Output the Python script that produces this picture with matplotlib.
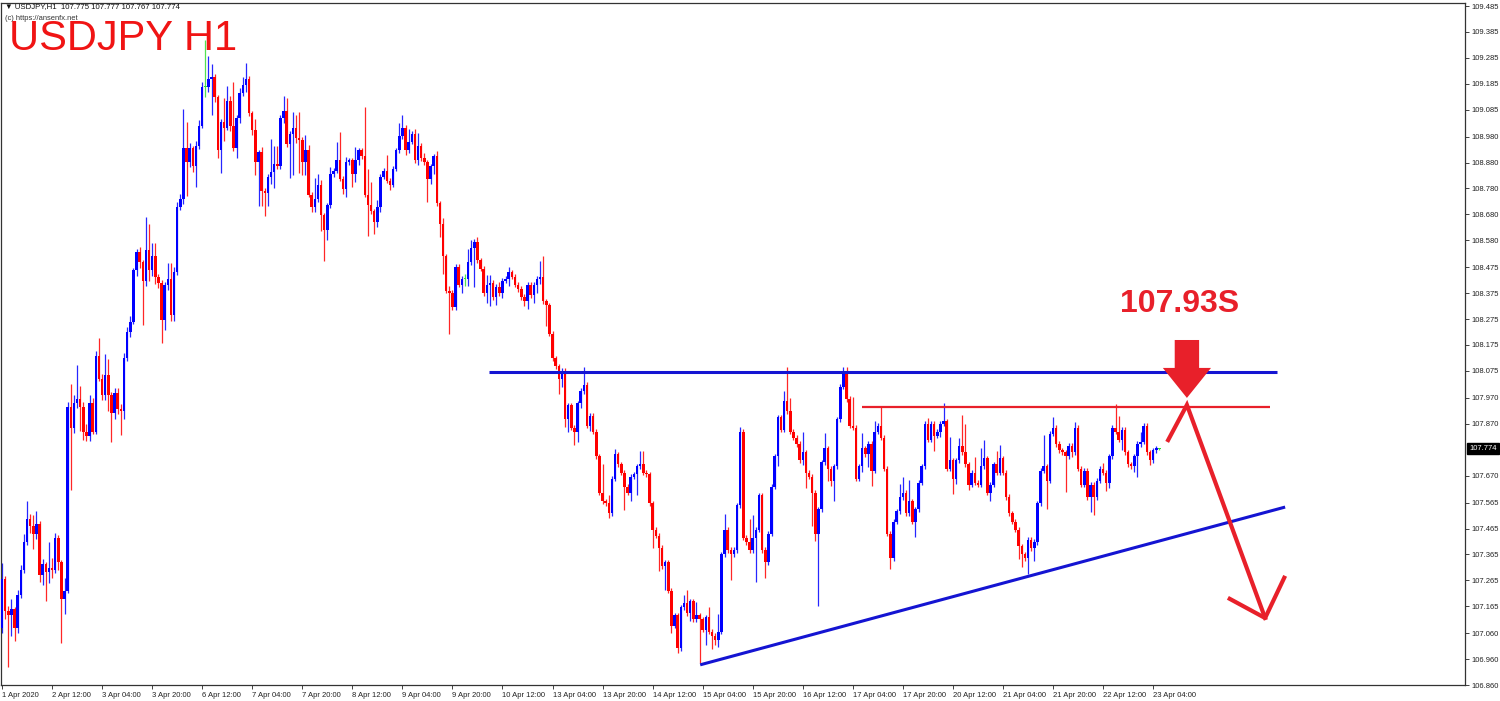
import matplotlib
matplotlib.use("Agg")
import matplotlib.pyplot as plt
import numpy as np
from matplotlib.patches import Polygon

# ---------------- data ----------------
first_open = 107.082
closes = [
    107.271,107.145,107.129,107.153,107.082,107.208,107.303,107.413,107.500,107.476,
    107.445,107.484,107.287,107.327,107.295,107.311,107.303,107.429,107.334,107.193,
    107.224,107.934,107.855,107.950,107.966,107.934,107.839,107.824,107.950,107.839,
    108.131,108.044,107.981,108.060,107.981,107.910,107.989,107.926,107.918,108.123,
    108.226,108.265,108.463,108.534,108.494,108.423,108.541,108.463,108.518,108.439,
    108.415,108.273,108.407,108.431,108.289,108.455,108.707,108.739,108.936,108.881,
    108.936,108.865,108.944,109.023,109.173,109.173,109.204,109.212,109.133,108.928,
    109.038,109.015,109.117,109.023,108.936,109.054,109.149,109.181,109.204,109.070,
    109.007,108.881,108.920,108.771,108.763,108.826,108.842,108.873,108.865,109.054,
    109.078,108.952,108.991,109.015,108.975,108.968,108.881,108.928,108.755,108.707,
    108.739,108.794,108.676,108.620,108.715,108.834,108.849,108.889,108.818,108.778,
    108.881,108.889,108.834,108.889,108.928,108.904,108.755,108.715,108.692,108.652,
    108.707,108.826,108.849,108.810,108.794,108.857,108.928,108.983,109.015,108.928,
    108.960,108.991,108.889,108.944,108.897,108.881,108.818,108.865,108.904,108.723,
    108.644,108.518,108.384,108.376,108.320,108.478,108.407,108.431,108.431,108.494,
    108.549,108.573,108.502,108.470,108.376,108.407,108.415,108.360,108.399,108.376,
    108.423,108.431,108.455,108.439,108.407,108.391,108.360,108.344,108.407,108.368,
    108.407,108.431,108.439,108.344,108.328,108.218,108.123,108.092,108.044,108.076,
    107.887,107.942,107.855,107.839,107.950,107.997,108.021,107.863,107.902,107.839,
    107.745,107.603,107.571,107.563,107.524,107.658,107.752,107.713,107.681,107.626,
    107.603,107.666,107.674,107.705,107.713,107.681,107.674,107.563,107.460,107.437,
    107.390,107.319,107.334,107.224,107.090,107.129,107.003,107.161,107.177,107.137,
    107.184,107.114,107.129,107.114,107.074,107.121,107.066,107.050,107.035,107.066,
    107.366,107.460,107.382,107.366,107.382,107.555,107.839,107.429,107.413,107.382,
    107.429,107.460,107.594,107.382,107.334,107.445,107.626,107.745,107.895,107.847,
    107.958,107.918,107.839,107.816,107.792,107.729,107.760,107.681,107.666,107.603,
    107.445,107.539,107.721,107.776,107.697,107.650,107.705,107.887,108.013,108.068,
    107.966,107.863,107.855,107.658,107.705,107.776,107.752,107.792,107.689,107.839,
    107.863,107.816,107.697,107.445,107.350,107.492,107.531,107.587,107.603,107.524,
    107.571,107.492,107.539,107.642,107.705,107.871,107.808,107.871,107.824,107.839,
    107.871,107.879,107.697,107.729,107.658,107.729,107.784,107.760,107.713,107.634,
    107.681,107.642,107.634,107.705,107.737,107.603,107.634,107.713,107.681,107.737,
    107.681,107.587,107.524,107.492,107.460,107.397,107.366,107.350,107.421,107.390,
    107.413,107.563,107.689,107.705,107.650,107.831,107.855,107.792,107.768,107.760,
    107.745,107.784,107.760,107.855,107.697,107.634,107.689,107.587,107.634,107.587,
    107.650,107.697,107.681,107.642,107.745,107.855,107.839,107.808,107.847,107.760,
    107.713,107.705,107.745,107.792,107.800,107.863,107.760,107.729,107.768,107.776,
    107.774,
]
# upper / lower wick lengths in pips (0.01)
up_wick = [
    6,1,2,4,1,2,2,3,7,2, 4,5,1,2,1,10,4,2,1,1, 5,2,9,3,13,5,2,3,3,2,
    2,7,2,8,6,1,2,2,2,2, 2,2,1,1,2,1,13,10,5,5, 1,1,1,6,6,2,2,2,15,10,
    2,1,2,2,2,18,9,5,1,1, 1,9,6,2,17,1,2,3,6,1, 1,4,1,2,1,1,13,7,7,1,
    6,5,1,6,5,10,1,6,2,1, 8,4,2,1,1,3,1,7,11,1, 2,1,1,5,1,1,19,10,9,1,
    3,1,1,6,1,1,1,5,5,1, 5,1,2,5,1,2,1,1,1,2, 1,2,1,2,1,1,1,1,2,5,
    3,1,2,1,1,4,3,1,1,2, 1,1,2,1,1,1,1,1,1,1, 1,1,6,8,1,1,1,1,1,1,
    1,1,1,1,1,1,7,1,1,1, 1,1,11,1,3,1,2,1,1,1, 1,1,1,1,5,5,1,1,1,1,
    1,1,1,1,1,1,1,1,3,5, 1,1,5,1,1,1,4,1,1,7, 1,6,1,1,1,1,2,1,1,9,
    9,1,1,1,1,1,1,1,1,1, 4,13,5,1,1,1,8,1,1,1, 1,1,1,6,1,1,1,1,1,2,
    2,1,11,1,1,6,1,1,1,4, 1,7,1,1,1,1,1,5,6,1, 8,1,1,1,1,1,2,1,1,1,
    1,7,1,9,1,1,3,12,11,1, 1,6,1,7,7,1,1,1,5,5, 1,1,1,1,1,1,1,1,1,1,
    1,1,1,12,1,1,4,1,1,1, 1,1,1,2,1,1,1,1,1,1, 1,1,2,1,1,1,9,6,1,1,
    1,1,1,1,4,1,1,1,1,1, 0.2,
]
down_wick = [
    2,3,20,8,5,2,1,1,1,3, 6,2,3,4,11,4,3,1,3,17, 6,1,24,2,2,9,3,2,2,1,
    1,1,2,2,6,11,2,2,9,3, 1,2,1,2,2,17,2,4,2,3, 2,9,4,2,2,2,1,1,2,13,
    2,2,8,1,1,4,2,14,2,3, 9,5,1,2,1,4,2,1,3,1, 2,5,17,6,9,5,3,6,1,1,
    2,1,13,16,2,13,5,5,1,2, 2,1,6,12,4,1,1,1,1,2, 3,1,5,3,2,1,1,12,1,5,
    2,2,1,1,2,1,1,1,1,2, 1,1,1,2,1,1,9,2,3,1, 5,7,1,16,1,1,1,3,3,3,
    1,15,1,1,1,4,8,1,3,1, 2,1,3,1,1,1,1,2,3,1, 3,3,2,1,8,1,1,1,6,3,
    3,5,1,5,4,2,1,1,2,1, 1,1,1,1,2,1,1,1,1,9, 1,3,1,8,1,1,1,1,7,1,
    9,1,9,1,3,1,2,1,1,1, 3,1,1,17,1,6,1,5,2,3, 1,1,1,10,1,1,1,1,1,1,
    1,17,1,1,6,1,1,1,4,1, 1,1,1,1,1,1,2,6,1,13, 3,28,1,1,5,2,8,1,1,1,
    1,1,1,1,1,2,1,5,6,1, 1,1,1,1,4,1,1,1,1,1, 1,1,6,1,1,1,1,1,6,1,
    2,1,1,1,6,2,1,1,1,2, 1,1,1,1,1,1,3,1,1,1, 1,1,1,1,1,5,5,1,6,1,
    5,1,1,1,11,1,1,1,1,1, 14,1,2,1,1,1,1,1,6,7, 1,1,1,3,2,1,1,1,4,1,
    1,1,2,8,1,1,1,2,1,1, 0.7,
]
last_open = 107.775

price_ticks = [109.485, 109.385, 109.285, 109.185, 109.085, 108.980, 108.880,
               108.780, 108.680, 108.580, 108.475, 108.375, 108.275, 108.175,
               108.075, 107.970, 107.870, 107.670, 107.565, 107.465, 107.365,
               107.265, 107.165, 107.060, 106.960, 106.860]
date_labels = ["1 Apr 2020", "2 Apr 12:00", "3 Apr 04:00", "3 Apr 20:00",
               "6 Apr 12:00", "7 Apr 04:00", "7 Apr 20:00", "8 Apr 12:00",
               "9 Apr 04:00", "9 Apr 20:00", "10 Apr 12:00", "13 Apr 04:00",
               "13 Apr 20:00", "14 Apr 12:00", "15 Apr 04:00", "15 Apr 20:00",
               "16 Apr 12:00", "17 Apr 04:00", "17 Apr 20:00", "20 Apr 12:00",
               "21 Apr 04:00", "21 Apr 20:00", "22 Apr 12:00", "23 Apr 04:00"]
bars_per_label = 16

# drawn analysis objects (bar index, price)
resistance = 108.070
resistance_span = (155.7, 407.6)
target_level = 107.935
target_span = (274.9, 405.4)
trend_start = (223.2, 106.938)
trend_end = (410.2, 107.548)
path_pts = [(372.8, 107.807), (378.8, 107.943), (403.8, 107.119)]
arrow_arms = [(391.9, 107.197), (410.2, 107.282)]

# ---------------- build OHLC ----------------
c = np.array(closes)
o = np.concatenate([[first_open], c[:-1]])
o[-1] = last_open
h = np.maximum(o, c) + np.array(up_wick) / 100.0
l = np.minimum(o, c) - np.array(down_wick) / 100.0
idx = np.arange(len(c))

BLUE = "#0000ff"
RED = "#ff0000"
LIME = "#33dd33"
cols = []
for oo, cc in zip(o, c):
    if np.isclose(oo, cc):
        cols.append(LIME)
    elif cc > oo:
        cols.append(BLUE)
    else:
        cols.append(RED)

fig = plt.figure(figsize=(15, 7.01), dpi=100)
ax = fig.add_axes([1/1500, 16/701, 1464/1500, 682/701])
ax.set_facecolor("white")

ax.vlines(idx, l, h, colors=cols, linewidth=0.9, alpha=0.85, zorder=2)
bottoms = np.minimum(o, c)
heights = np.maximum(np.abs(c - o), 0.003)
ax.bar(idx, heights, bottom=bottoms, width=0.8, color=cols, linewidth=0, zorder=3)

ax.set_xlim(-0.32, 467.7)
ax.set_ylim(106.860, 109.497)

# axes styling
for s in ax.spines.values():
    s.set_color("#333333")
    s.set_linewidth(0.9)
ax.yaxis.tick_right()
ax.set_yticks(price_ticks)
ax.set_yticklabels([f"{v:.3f}" for v in price_ticks])
ax.tick_params(axis="y", direction="out", length=3, width=0.6, pad=2,
               labelsize=5.5, colors="#222222")
xt = [i * bars_per_label for i in range(len(date_labels))]
ax.set_xticks(xt)
ax.set_xticklabels(date_labels, ha="left")
ax.tick_params(axis="x", direction="out", length=3, width=0.6, pad=2,
               labelsize=5.5, colors="#222222")
for t in ax.get_xticklabels() + ax.get_yticklabels():
    t.set_fontfamily(["Liberation Sans", "DejaVu Sans"])

# current price box
ax.annotate(f"{closes[-1]:.3f}", xy=(1.0, closes[-1]), xycoords=("axes fraction", "data"),
            xytext=(3, 0), textcoords="offset points", ha="left", va="center",
            fontsize=5.5, color="white", family=["Liberation Sans", "DejaVu Sans"],
            bbox=dict(boxstyle="square,pad=0.25", fc="black", ec="black"),
            annotation_clip=False)

# analysis drawings
ax.plot(resistance_span, [resistance, resistance], color="#1414d2", linewidth=2.2,
        zorder=4, solid_capstyle="butt")
ax.plot(target_span, [target_level, target_level], color="#e8202a", linewidth=1.6,
        zorder=4, solid_capstyle="butt")
ax.plot([trend_start[0], trend_end[0]], [trend_start[1], trend_end[1]],
        color="#1414d2", linewidth=2.2, zorder=4, solid_capstyle="butt")
px = [p[0] for p in path_pts]
py = [p[1] for p in path_pts]
ax.plot(px, py, color="#e8202a", linewidth=3.0, zorder=5, solid_joinstyle="miter")
for ax_x, ax_y in arrow_arms:
    ax.plot([path_pts[-1][0], ax_x], [path_pts[-1][1], ax_y], color="#e8202a",
            linewidth=3.0, zorder=5, solid_capstyle="butt")

# big block arrow pointing down
acx = 378.8
arrow_poly = [(acx - 3.9, 108.194), (acx + 3.9, 108.194), (acx + 3.9, 108.086),
              (acx + 7.7, 108.086), (acx, 107.970), (acx - 7.7, 108.086),
              (acx - 3.9, 108.086)]
ax.add_patch(Polygon(arrow_poly, closed=True, fc="#e8202a", ec="none", zorder=6))

# texts
fig.text(5/1500, 1 - 7/701, "\u25bc USDJPY,H1  107.775 107.777 107.767 107.774",
         fontsize=5.6, color="#111111", va="center", ha="left",
         family=["Liberation Sans", "DejaVu Sans"])
fig.text(5/1500, 1 - 18/701, "(c) https://ansenfx.net",
         fontsize=5.4, color="#333333", va="center", ha="left",
         family=["Liberation Sans", "DejaVu Sans"])
fig.text(9/1500, 1 - 50/701, "USDJPY H1", fontsize=30, color="#f01414",
         va="baseline", ha="left", family=["Liberation Sans", "DejaVu Sans"])
fig.text(1120/1500, 1 - 312/701, "107.93S", fontsize=23, fontweight="bold",
         color="#e8202a", va="baseline", ha="left",
         family=["Liberation Sans", "DejaVu Sans"])

fig.savefig("out.png", dpi=100, facecolor="white")
